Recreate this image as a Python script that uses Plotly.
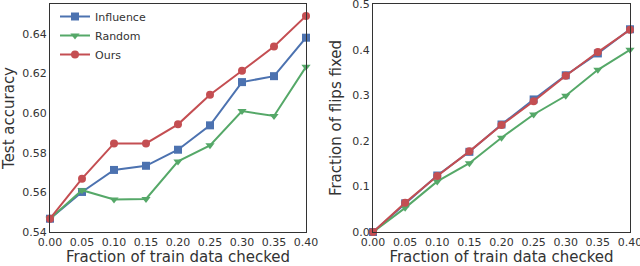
import plotly.graph_objects as go

x_vals = [0.00, 0.05, 0.10, 0.15, 0.20, 0.25, 0.30, 0.35, 0.40]

acc_influence = [0.5467, 0.5602, 0.5713, 0.5734, 0.5815, 0.5938, 0.6156, 0.6186, 0.6380]
acc_random = [0.5467, 0.5611, 0.5564, 0.5567, 0.5756, 0.5837, 0.6010, 0.5985, 0.6233]
acc_ours = [0.5467, 0.5669, 0.5847, 0.5847, 0.5943, 0.6092, 0.6213, 0.6336, 0.6490]

flip_influence = [0.0, 0.063, 0.124, 0.176, 0.236, 0.291, 0.344, 0.392, 0.445]
flip_random = [0.0, 0.053, 0.111, 0.151, 0.207, 0.258, 0.299, 0.356, 0.400]
flip_ours = [0.0, 0.064, 0.123, 0.177, 0.235, 0.287, 0.343, 0.395, 0.444]

x_ticks = [0.00, 0.05, 0.10, 0.15, 0.20, 0.25, 0.30, 0.35, 0.40]
x_tick_text = ["0.00", "0.05", "0.10", "0.15", "0.20", "0.25", "0.30", "0.35", "0.40"]
acc_ticks = [0.54, 0.56, 0.58, 0.60, 0.62, 0.64]
acc_tick_text = ["0.54", "0.56", "0.58", "0.60", "0.62", "0.64"]
flip_ticks = [0.0, 0.1, 0.2, 0.3, 0.4, 0.5]
flip_tick_text = ["0.0", "0.1", "0.2", "0.3", "0.4", "0.5"]

BLUE = "#4C72B0"
GREEN = "#55A868"
RED = "#C44E52"
FONT = "DejaVu Sans"
TXT = "#333333"

fig = go.Figure()

series = [
    ("Influence", acc_influence, flip_influence, BLUE, "square"),
    ("Random", acc_random, flip_random, GREEN, "triangle-down"),
    ("Ours", acc_ours, flip_ours, RED, "circle"),
]

for name, acc, flip, col, sym in series:
    fig.add_trace(go.Scatter(
        x=x_vals, y=acc, name=name, mode="lines+markers",
        line=dict(color=col, width=2), marker=dict(symbol=sym, size=8, color=col),
        xaxis="x", yaxis="y", cliponaxis=False, legendgroup=name))
for name, acc, flip, col, sym in series:
    fig.add_trace(go.Scatter(
        x=x_vals, y=flip, name=name, mode="lines+markers",
        line=dict(color=col, width=2), marker=dict(symbol=sym, size=8, color=col),
        xaxis="x2", yaxis="y2", cliponaxis=False, showlegend=False, legendgroup=name))

axis_common = dict(
    showgrid=False, zeroline=False, showline=True, linecolor="#333333", linewidth=1.2,
    mirror=True, ticks="", automargin=False, ticklabeloverflow="allow",
    tickfont=dict(family=FONT, size=11, color=TXT),
)

H = 266.0
W = 640.0
fig.update_layout(
    width=640, height=266,
    margin=dict(l=0, r=0, t=0, b=0, autoexpand=False),
    paper_bgcolor="white", plot_bgcolor="white",
    font=dict(family=FONT, color=TXT),
    xaxis=dict(domain=[50 / W, 306 / W], range=[0, 0.4], tickvals=x_ticks, ticktext=x_tick_text,
               anchor="y", title=dict(text="Fraction of train data checked", font=dict(size=15, color=TXT), standoff=2),
               **axis_common),
    yaxis=dict(domain=[34 / H, 262 / H], range=[0.54, 0.655], tickvals=acc_ticks, ticktext=acc_tick_text,
               anchor="x", title=dict(text="Test accuracy", font=dict(size=15, color=TXT), standoff=6),
               **axis_common),
    xaxis2=dict(domain=[373 / W, 630 / W], range=[0, 0.4], tickvals=x_ticks, ticktext=x_tick_text,
                anchor="y2", title=dict(text="Fraction of train data checked", font=dict(size=15, color=TXT), standoff=2),
                **axis_common),
    yaxis2=dict(domain=[34 / H, 262 / H], range=[0, 0.5005], tickvals=flip_ticks, ticktext=flip_tick_text,
                anchor="x2", title=dict(text="Fraction of flips fixed", font=dict(size=15, color=TXT), standoff=6),
                **axis_common),
    legend=dict(x=55 / W, y=264 / H, xanchor="left", yanchor="top",
                font=dict(family=FONT, size=11, color=TXT), bgcolor="rgba(0,0,0,0)",
                itemwidth=30, tracegroupgap=0),
    showlegend=True,
)

fig.write_html("out.html", config={"displayModeBar": False},
               post_script="document.body.style.margin='0';document.body.style.padding='0';")
